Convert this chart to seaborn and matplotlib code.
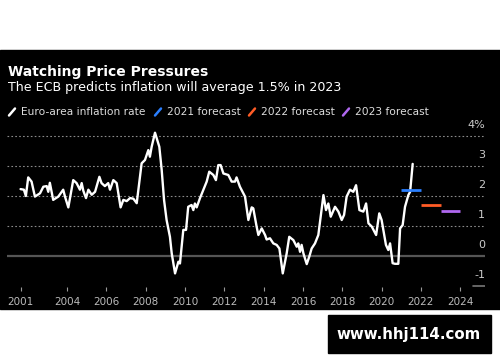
import numpy as np
import pandas as pd
import seaborn as sns
import matplotlib.pyplot as plt
from matplotlib.lines import Line2D
from matplotlib.patches import Rectangle

# euro-area inflation (decimal years, %)
years = [2001.63, 2001.80, 2001.90, 2002.02, 2002.19, 2002.36, 2002.62, 2002.79, 2002.96, 2003.04,
         2003.12, 2003.29, 2003.55, 2003.72, 2003.80, 2003.89, 2004.06, 2004.31, 2004.48, 2004.65,
         2004.74, 2004.82, 2004.96, 2005.08, 2005.25, 2005.42, 2005.64, 2005.75, 2005.92, 2006.09,
         2006.18, 2006.35, 2006.52, 2006.72, 2006.86, 2007.03, 2007.20, 2007.37, 2007.54, 2007.79,
         2007.96, 2008.13, 2008.21, 2008.30, 2008.47, 2008.69, 2008.81, 2008.93, 2009.06, 2009.23,
         2009.32, 2009.49, 2009.66, 2009.74, 2009.91, 2010.05, 2010.16, 2010.33, 2010.42, 2010.50,
         2010.59, 2010.76, 2010.93, 2011.10, 2011.23, 2011.44, 2011.57, 2011.69, 2011.81, 2011.95,
         2012.20, 2012.37, 2012.54, 2012.62, 2012.79, 2013.05, 2013.22, 2013.39, 2013.47, 2013.64,
         2013.73, 2013.90, 2014.07, 2014.15, 2014.32, 2014.49, 2014.66, 2014.80, 2014.97, 2015.17,
         2015.30, 2015.51, 2015.68, 2015.76, 2015.85, 2015.93, 2016.02, 2016.19, 2016.32, 2016.44,
         2016.61, 2016.78, 2016.90, 2017.04, 2017.17, 2017.29, 2017.41, 2017.63, 2017.80, 2017.97,
         2018.09, 2018.22, 2018.39, 2018.56, 2018.70, 2018.87, 2019.07, 2019.21, 2019.33, 2019.50,
         2019.72, 2019.88, 2020.00, 2020.22, 2020.34, 2020.43, 2020.56, 2020.68, 2020.85, 2020.94,
         2021.07, 2021.19, 2021.36, 2021.45, 2021.58]
inflation = [2.22, 2.20, 1.99, 2.61, 2.47, 1.97, 2.08, 2.30, 2.32, 2.13,
             2.43, 1.86, 1.97, 2.13, 2.20, 1.97, 1.61, 2.52, 2.42, 2.20,
             2.42, 2.17, 1.92, 2.20, 2.03, 2.13, 2.63, 2.42, 2.32, 2.42,
             2.20, 2.52, 2.42, 1.61, 1.86, 1.82, 1.92, 1.90, 1.75, 3.08,
             3.19, 3.52, 3.30, 3.63, 4.10, 3.63, 2.86, 1.86, 1.19, 0.63,
             0.08, -0.59, -0.20, -0.26, 0.86, 0.86, 1.63, 1.69, 1.52, 1.74,
             1.61, 1.92, 2.20, 2.47, 2.80, 2.69, 2.52, 3.02, 3.02, 2.74,
             2.69, 2.47, 2.47, 2.61, 2.30, 1.97, 1.19, 1.61, 1.58, 0.97,
             0.69, 0.91, 0.69, 0.54, 0.58, 0.41, 0.36, 0.24, -0.59, 0.08,
             0.63, 0.52, 0.30, 0.41, 0.13, 0.36, 0.08, -0.28, -0.03, 0.24,
             0.41, 0.69, 1.30, 2.02, 1.52, 1.74, 1.30, 1.63, 1.47, 1.19,
             1.36, 1.97, 2.20, 2.13, 2.35, 1.52, 1.47, 1.74, 1.08, 0.97,
             0.69, 1.41, 1.19, 0.36, 0.19, 0.41, -0.25, -0.27, -0.27, 0.91,
             1.02, 1.63, 2.02, 2.13, 3.06]

# ECB forecasts
forecast_years = [2021, 2022, 2023]
forecast_values = [2.2, 1.7, 1.5]
forecast_labels = ['2021 forecast', '2022 forecast', '2023 forecast']
forecast_colors = ['#2a7fff', '#ff5c26', '#b068f0']

tick_pos = [2001.63, 2004, 2006, 2008, 2010, 2012, 2014, 2016, 2018, 2020, 2022, 2024]
tick_labels = ['2001', '2004', '2006', '2008', '2010', '2012', '2014', '2016', '2018', '2020', '2022', '2024']
y_levels = [4, 3, 2, 1, 0, -1]
y_labels = ['4%', '3', '2', '1', '0', '-1']

df = pd.DataFrame({'year': years, 'inflation': inflation})

sns.set_style('dark')
plt.rcParams['font.family'] = ['DejaVu Sans']

fig = plt.figure(figsize=(5, 3.62), dpi=100)
fig.patch.set_facecolor('white')
# black card behind the chart
fig.add_artist(Rectangle((0, 53/362), 1, 259/362, transform=fig.transFigure, color='black', zorder=0))

fig.text(0.016, 1 - 72/362, 'Watching Price Pressures', color='white', fontsize=10,
         fontweight='bold', va='center')
fig.text(0.016, 1 - 87/362, 'The ECB predicts inflation will average 1.5% in 2023', color='white',
         fontsize=9.1, va='center')

# legend drawn by hand, slash markers like the original
leg_y = 1 - 112/362
items = [('Euro-area inflation rate', 'white', 9)] + \
        [(lab, c, x) for lab, c, x in zip(forecast_labels, forecast_colors, [155, 249, 343])]
for lab, c, x in items:
    fig.add_artist(Line2D([x/500, (x+6)/500], [leg_y - 3.5/362, leg_y + 3.5/362], color=c, lw=1.8,
                          transform=fig.transFigure))
    fig.text((x+12)/500, leg_y, lab, color='#dddddd', fontsize=7.7, va='center')

ax = fig.add_axes([7/500, 1 - 287.2/362, 478/500, 166.5/362])
ax.set_facecolor('black')
ax.patch.set_alpha(0)

for v in [1, 2, 3, 4]:
    ax.axhline(v, color='#8a8a8a', lw=0.8, ls=(0, (1.5, 2)), zorder=1)
ax.axhline(0, color='#555555', lw=1.6, zorder=1)
ax.axhline(-1, xmin=0.975, xmax=1, color='#777777', lw=1.2, zorder=1)

sns.lineplot(data=df, x='year', y='inflation', color='white', lw=1.7, ax=ax, zorder=3)
for yr, val, c in zip(forecast_years, forecast_values, forecast_colors):
    ax.hlines(val, yr, yr + 1, color=c, lw=2, zorder=4)

for v, lab in zip(y_levels, y_labels):
    ax.text(1.0, v + 0.35, lab, transform=ax.get_yaxis_transform(), color='#cccccc',
            fontsize=8, ha='right', va='center')

ax.set_xlim(2000.94, 2025.26)
ax.set_ylim(-1.05, 4.5)
ax.set_xticks(tick_pos)
ax.set_xticklabels(tick_labels)
ax.set_yticks([])
ax.tick_params(axis='x', colors='#999999', labelcolor='#bbbbbb', labelsize=7.5, length=3,
               direction='out', pad=4, bottom=True)
ax.grid(False)
ax.set_xlabel('')
ax.set_ylabel('')
for s in ax.spines.values():
    s.set_visible(False)

# watermark box
fig.add_artist(Rectangle((328/500, 1 - 353/362), 163/500, 38/362, transform=fig.transFigure,
                         color='black', zorder=5))
fig.text(409/500, 1 - 334/362, 'www.hhj114.com', color='white', fontsize=10.8, fontweight='bold',
         ha='center', va='center', zorder=6)

fig.savefig('out.png', dpi=100)
